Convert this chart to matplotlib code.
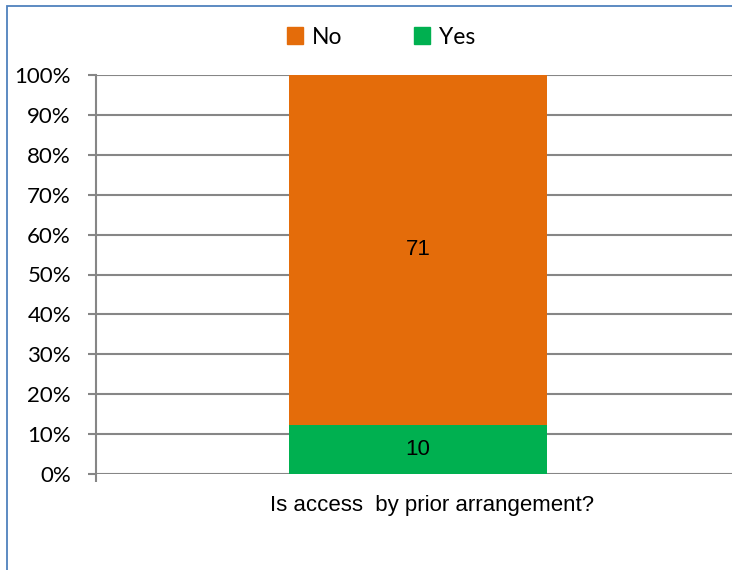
import matplotlib.pyplot as plt
from matplotlib.patches import Rectangle, Patch
from matplotlib.ticker import FixedLocator

# survey answers for one question
question = ["Is access  by prior arrangement?"]
yes_counts = [10]
no_counts = [71]
series_names = ["No", "Yes"]

W, H = 732, 570
fig = plt.figure(figsize=(W / 100, H / 100), dpi=100)

# chart border (blue frame like an office chart area)
fig.patches.append(Rectangle((7 / W, -0.1), 1.2, 1 - 6 / H + 0.1, transform=fig.transFigure,
                             fill=False, edgecolor="#4F81BD", linewidth=1.3))

ax = fig.add_axes([96 / W, 96 / H, 644 / W, 399 / H])

total = [y + n for y, n in zip(yes_counts, no_counts)]
yes_pct = [100 * y / t for y, t in zip(yes_counts, total)]
no_pct = [100 * n / t for n, t in zip(no_counts, total)]
x = list(range(len(question)))

green = "#00B050"
orange = "#E46C0A"
b_yes = ax.bar(x, yes_pct, width=0.4, color=green, zorder=3)
b_no = ax.bar(x, no_pct, width=0.4, bottom=yes_pct, color=orange, zorder=3)

for bars, vals in ((b_yes, yes_counts), (b_no, no_counts)):
    ax.bar_label(bars, labels=[str(v) for v in vals], label_type="center",
                 fontsize=16, family="Liberation Sans", color="#000000")

ax.set_xlim(-0.5, 0.5)
ax.set_ylim(0, 100)
ax.set_yticks(range(0, 101, 10))
ax.set_yticklabels([f"{v}%" for v in range(0, 101, 10)], fontsize=16, family="Lato")

# category name as the axis label, slightly right of the bar centre
ax.set_xticks([])
ax.set_xlabel(question[0], fontsize=16, family="Liberation Sans", va="center")
ax.xaxis.set_label_coords(0.522, -0.078)
ax.xaxis.set_minor_locator(FixedLocator([-0.5, 0.5]))
ax.tick_params(axis="x", which="minor", length=6, width=1.5, color="#868686", direction="out",
               labelbottom=False)
ax.tick_params(axis="y", length=6, width=1.5, color="#868686", direction="out", pad=12)

ax.grid(axis="y", color="#868686", linewidth=1.5, zorder=0)
for side in ("top", "right", "bottom"):
    ax.spines[side].set_visible(False)
ax.spines["left"].set_color("#868686")
ax.spines["left"].set_linewidth(1.5)

handles = [Patch(color=orange), Patch(color=green)]
fig.legend(handles, series_names, loc="center", bbox_to_anchor=(381 / W, 1 - 37 / H),
           ncol=2, frameon=False, prop={"family": "Lato", "size": 16.5},
           handlelength=0.7, handleheight=0.7, handletextpad=0.4, columnspacing=3.1)

fig.savefig("out.png", dpi=100)
